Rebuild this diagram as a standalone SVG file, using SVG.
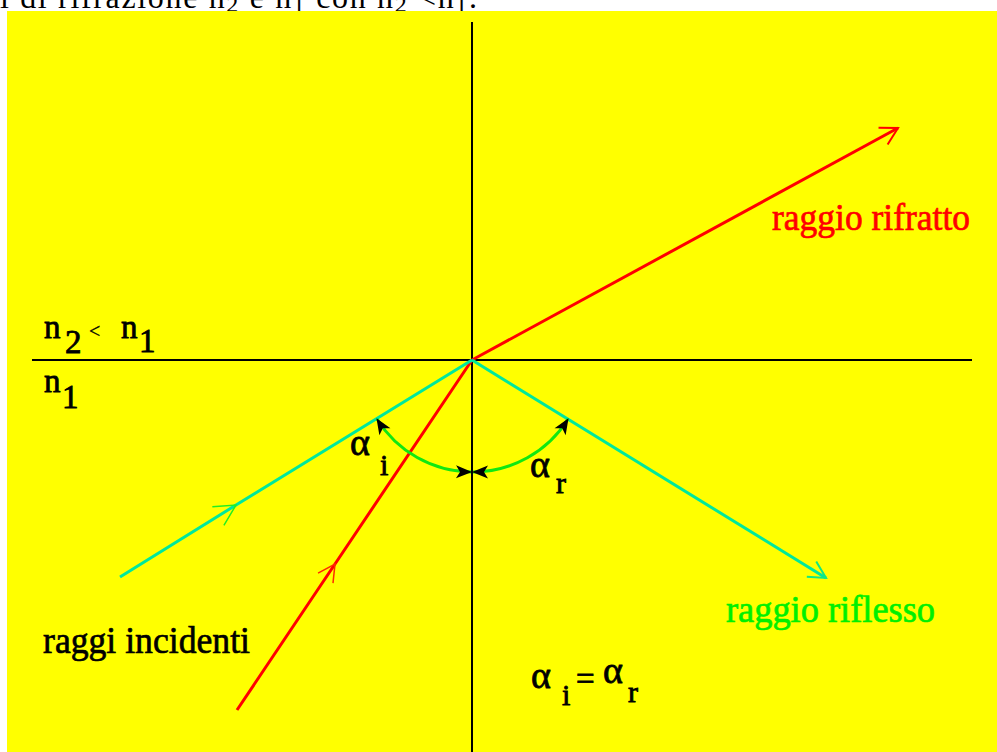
<svg xmlns="http://www.w3.org/2000/svg" width="997" height="752" viewBox="0 0 997 752">
<style>
.t{font-family:"Liberation Serif","Times New Roman",serif;}
.lbl{font-size:38px;stroke-width:0.7px;}
.m{font-size:33px;fill:#000;stroke:#000;stroke-width:0.8px;}
.al{font-size:38px;}
.sb{font-size:30px;}
.axis{stroke:#000;stroke-width:2;fill:none;}
.red{stroke:#ff0000;stroke-width:3;fill:none;}
.cyan{stroke:#00e89c;stroke-width:3;fill:none;}
.arc{stroke:#11e811;stroke-width:3;fill:none;}
</style>
<defs>
<marker id="openRed" markerUnits="userSpaceOnUse" orient="auto" overflow="visible" markerWidth="1" markerHeight="1">
<path d="M-17,-9.5 L0,0 L-17,9.5" fill="none" stroke="#ff0000" stroke-width="2"/>
</marker>
<marker id="openRedMid" markerUnits="userSpaceOnUse" orient="auto" overflow="visible" markerWidth="1" markerHeight="1">
<path d="M-17,-9 L0,0 L-17,9" fill="none" stroke="#ff2a00" stroke-width="1.5"/>
</marker>
<marker id="openGreen" markerUnits="userSpaceOnUse" orient="auto" overflow="visible" markerWidth="1" markerHeight="1">
<path d="M-21,-11 L0,0 L-21,11" fill="none" stroke="#22ee22" stroke-width="1.5"/>
</marker>
<marker id="openCyan" markerUnits="userSpaceOnUse" orient="auto" overflow="visible" markerWidth="1" markerHeight="1">
<path d="M-17,-9 L0,0 L-17,9" fill="none" stroke="#11e880" stroke-width="2"/>
</marker>
<marker id="solid" markerUnits="userSpaceOnUse" orient="auto-start-reverse" overflow="visible" markerWidth="1" markerHeight="1">
<path d="M1,0 L-15,-6.5 L-11,0 L-15,6.5 Z" fill="#000"/>
</marker>
</defs>

<rect x="0" y="0" width="997" height="752" fill="#ffffff"/>
<g id="caption">
<text class="t" x="0" y="8" font-size="32" fill="#000" textLength="477" lengthAdjust="spacing">i di rifrazione n<tspan font-size="24" dy="4">2</tspan><tspan dy="-4"> e n</tspan><tspan font-size="24" dy="4">1</tspan><tspan dy="-4"> con n</tspan><tspan font-size="24" dy="4">2</tspan><tspan dy="-4"> &lt;n</tspan><tspan font-size="24" dy="4">1</tspan><tspan dy="-4">.</tspan></text>
</g>
<rect x="7" y="11" width="990" height="741" fill="#ffff00"/>

<g id="axes">
<line id="normal" class="axis" x1="472" y1="22" x2="472" y2="752"/>
<line id="interface" class="axis" x1="32" y1="360" x2="972" y2="360"/>
</g>

<g id="connectors">
<path id="incident-red" class="red" d="M237,710 L335,564 L472,360" marker-mid="url(#openRedMid)"/>
<path id="refracted" class="red" d="M472,360 L898,128" marker-end="url(#openRed)"/>
<path id="incident-cyan" class="cyan" d="M120,577 L236,505 L472,360" marker-mid="url(#openGreen)"/>
<path id="reflected" class="cyan" d="M472,360 L826,578" marker-end="url(#openCyan)"/>
<path id="arc-i" class="arc" d="M471,472 A112,112 0 0 1 377,419" marker-start="url(#solid)" marker-end="url(#solid)"/>
<path id="arc-r" class="arc" d="M473,472 A112,112 0 0 0 568,419" marker-start="url(#solid)" marker-end="url(#solid)"/>
</g>

<g id="label-media" class="t m">
<text x="44" y="338">n</text><text x="65" y="353">2</text>
<text x="89" y="338" style="font-size:20px;stroke-width:0.3px">&lt;</text>
<text x="121" y="338">n</text><text x="139" y="352">1</text>
<text x="44" y="392">n</text><text x="62" y="408">1</text>
</g>

<g id="label-alpha-i" class="t m">
<text class="al" x="350" y="455">α</text><text class="sb" x="380" y="475">i</text>
</g>
<g id="label-alpha-r" class="t m">
<text class="al" x="530" y="477">α</text><text class="sb" x="556" y="493">r</text>
</g>
<g id="label-equal" class="t m">
<text class="al" x="531" y="688">α</text><text class="sb" x="562" y="705">i</text>
<text x="576" y="690">=</text>
<text class="al" x="603" y="683">α</text><text class="sb" x="628" y="702">r</text>
</g>

<g id="label-rifratto"><text class="t lbl" x="772" y="230" fill="#ff0000" stroke="#ff0000" textLength="198" lengthAdjust="spacingAndGlyphs">raggio rifratto</text></g>
<g id="label-riflesso"><text class="t lbl" x="726" y="622" fill="#00f000" stroke="#00f000" textLength="209" lengthAdjust="spacingAndGlyphs">raggio riflesso</text></g>
<g id="label-incidenti"><text class="t lbl" x="43" y="653" fill="#000" stroke="#000" textLength="207" lengthAdjust="spacingAndGlyphs">raggi incidenti</text></g>
</svg>
